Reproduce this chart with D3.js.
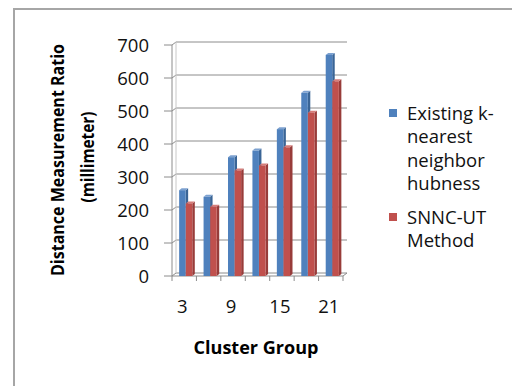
<!DOCTYPE html>
<html><head><meta charset="utf-8">
<script src="https://cdn.jsdelivr.net/npm/d3@7/dist/d3.min.js"></script>
<style>html,body{margin:0;padding:0;background:#fff;overflow:hidden}</style>
</head><body>
<script>
const categories = [3, 6, 9, 12, 15, 18, 21];
const xTickLabels = [3, 9, 15, 21];
const seriesNames = ["Existing k-nearest neighbor hubness", "SNNC-UT Method"];
const existingKnn = [260, 240, 360, 380, 445, 555, 670];
const snncUt = [220, 210, 320, 335, 390, 495, 590];
const yTicks = [0, 100, 200, 300, 400, 500, 600, 700];
const legendLines = [["Existing k-", "nearest", "neighbor", "hubness"], ["SNNC-UT", "Method"]];
const colors = ["#4F81BD", "#C0504D"];
const sideColors = ["#3A6596", "#983C3A"];
const topColors = ["#7CA1D0", "#D67E7B"];

const W = 512, H = 386;
const FONT = "'Open Sans', 'Liberation Sans', sans-serif";
const svg = d3.select("body").append("svg").attr("width", W).attr("height", H);

// outer frame
svg.append("rect").attr("x", 14).attr("y", 9).attr("width", 620).attr("height", 500)
  .attr("fill", "none").attr("stroke", "#a6a6a6").attr("stroke-width", 2);

const x = d3.scaleBand().domain(categories).range([172, 343]);
const y = d3.scaleLinear().domain([0, 700]).range([276, 45]);
const dx = 4, dy = -3; // wall depth
const gridColor = "#8c8c8c";

// back-wall gridlines
const g = svg.append("g");
yTicks.forEach(t => {
  g.append("line").attr("x1", x.range()[0] + dx).attr("x2", x.range()[1] + dx)
    .attr("y1", y(t) + dy).attr("y2", y(t) + dy).attr("stroke", gridColor).attr("stroke-width", 1);
  g.append("line").attr("x1", x.range()[0]).attr("x2", x.range()[0] + dx)
    .attr("y1", y(t)).attr("y2", y(t) + dy).attr("stroke", gridColor);
  g.append("line").attr("x1", x.range()[0] - 8).attr("x2", x.range()[0])
    .attr("y1", y(t)).attr("y2", y(t)).attr("stroke", gridColor);
});
// left wall edges
g.append("line").attr("x1", x.range()[0]).attr("x2", x.range()[0]).attr("y1", y(0)).attr("y2", y(700)).attr("stroke", gridColor);
g.append("line").attr("x1", x.range()[0] + dx).attr("x2", x.range()[0] + dx).attr("y1", y(0) + dy).attr("y2", y(700) + dy).attr("stroke", "#c8c8c8");
// floor
g.append("line").attr("x1", x.range()[0]).attr("x2", x.range()[1]).attr("y1", y(0)).attr("y2", y(0)).attr("stroke", gridColor);
g.append("line").attr("x1", x.range()[1]).attr("x2", x.range()[1] + dx).attr("y1", y(0)).attr("y2", y(0) + dy).attr("stroke", gridColor);
categories.concat([null]).forEach(c => {
  const xx = c === null ? x.range()[1] : x(c);
  g.append("line").attr("x1", xx).attr("x2", xx).attr("y1", y(0)).attr("y2", y(0) + 5).attr("stroke", gridColor);
});

// bars
const x1 = d3.scaleBand().domain([0, 1]).range([0, x.bandwidth()]).paddingOuter(0.85).paddingInner(0.02);
const bd = 2.5, bdy = -2;
const data = [existingKnn, snncUt];
categories.forEach((c, i) => {
  data.forEach((vals, s) => {
    const x0 = x(c) + x1(s) + 1.5, w = x1.bandwidth();
    const yt = y(vals[i]), yb = y(0);
    svg.append("polygon").attr("points", [[x0 + w, yt], [x0 + w + bd, yt + bdy], [x0 + w + bd, yb + bdy], [x0 + w, yb]].join(" "))
      .attr("fill", sideColors[s]);
    svg.append("polygon").attr("points", [[x0, yt], [x0 + bd, yt + bdy], [x0 + w + bd, yt + bdy], [x0 + w, yt]].join(" "))
      .attr("fill", topColors[s]);
    svg.append("rect").attr("x", x0).attr("y", yt).attr("width", w).attr("height", yb - yt).attr("fill", colors[s]);
  });
});

// y tick labels
yTicks.forEach(t => {
  svg.append("text").attr("x", 149).attr("y", y(t)).attr("dy", "0.36em").attr("text-anchor", "end")
    .attr("font-family", FONT).attr("font-size", 18.5).attr("fill", "#111").text(t);
});
// x tick labels
xTickLabels.forEach(c => {
  svg.append("text").attr("x", x(c) + x.bandwidth() / 2 - 2).attr("y", 313).attr("text-anchor", "middle")
    .attr("font-family", FONT).attr("font-size", 18.5).attr("fill", "#111").text(c);
});

// axis titles
svg.append("text").attr("transform", "translate(64,160) rotate(-90)").attr("text-anchor", "middle")
  .attr("font-family", FONT).attr("font-weight", "bold").attr("font-size", 17).attr("fill", "#000")
  .attr("textLength", 232).attr("lengthAdjust", "spacingAndGlyphs").text("Distance Measurement Ratio");
svg.append("text").attr("transform", "translate(94,157) rotate(-90)").attr("text-anchor", "middle")
  .attr("font-family", FONT).attr("font-weight", "bold").attr("font-size", 17).attr("fill", "#000")
  .attr("textLength", 91).attr("lengthAdjust", "spacingAndGlyphs").text("(millimeter)");
svg.append("text").attr("x", 256).attr("y", 354).attr("text-anchor", "middle")
  .attr("font-family", FONT).attr("font-weight", "bold").attr("font-size", 17.5).attr("fill", "#000")
  .attr("textLength", 125).attr("lengthAdjust", "spacingAndGlyphs").text("Cluster Group");

// legend
const legY = [113, 217];
legendLines.forEach((lines, s) => {
  svg.append("rect").attr("x", 389).attr("y", legY[s] - 4).attr("width", 8).attr("height", 8).attr("fill", colors[s]);
  lines.forEach((ln, j) => {
    svg.append("text").attr("x", 407).attr("y", legY[s] + j * 23.5).attr("dy", "0.36em")
      .attr("font-family", FONT).attr("font-size", 18.5).attr("fill", "#111").text(ln);
  });
});
</script>
</body></html>
